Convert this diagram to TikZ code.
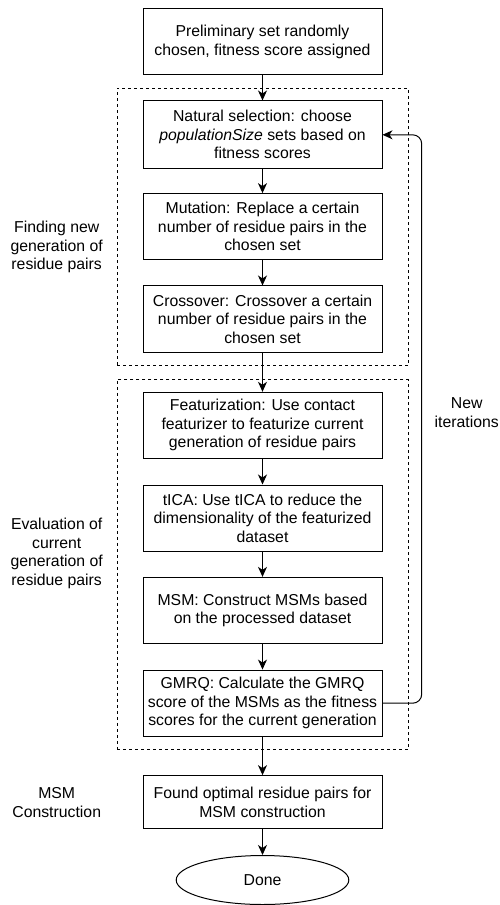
\documentclass[tikz,border=0pt]{standalone}
\usepackage{fontspec}
\setmainfont{Liberation Sans}
\usetikzlibrary{arrows.meta,shapes.geometric}
\begin{document}
\begin{tikzpicture}[x=1pt,y=-1pt,
  every node/.style={font=\fontsize{15.8}{18.5}\selectfont},
  proc/.style={draw, line width=1pt, minimum width=239pt, inner sep=0pt, align=center},
  group/.style={draw, line width=1pt, dash pattern=on 3pt off 3pt, minimum width=291pt, inner sep=0pt},
  lbl/.style={align=center, inner sep=0pt},
  arr/.style={line width=1pt, -{Stealth[length=10pt,width=9pt,inset=3pt]}}
]
\useasboundingbox (0,0) rectangle (500,905);
\node[group, minimum height=277.7pt] (g1) at (262.5,226.85) {};
\node[group, minimum height=370.4pt] (g2) at (262.5,564.5) {};

\node[proc, minimum height=66pt] (b1) at (262.5,41.7) {Preliminary set randomly\\chosen, fitness score assigned};
\node[proc, minimum height=67.7pt] (b2) at (262.5,134.8) {Natural selection: choose\\\textit{populationSize} sets based on\\fitness scores};
\node[proc, minimum height=66.3pt] (b3) at (262.5,226.8) {Mutation: Replace a certain\\number of residue pairs in the\\chosen set};
\node[proc, minimum height=66.7pt] (b4) at (262.5,319.3) {Crossover: Crossover a certain\\number of residue pairs in the\\chosen set};
\node[proc, minimum height=66pt] (b5) at (262.5,425.3) {Featurization: Use contact\\featurizer to featurize current\\generation of residue pairs};
\node[proc, minimum height=66pt] (b6) at (262.5,518) {tICA: Use tICA to reduce the\\dimensionality of the featurized\\dataset};
\node[proc, minimum height=66.3pt] (b7) at (262.5,610.5) {MSM: Construct MSMs based\\on the processed dataset};
\node[proc, minimum height=66.3pt] (b8) at (262.5,703.2) {GMRQ: Calculate the GMRQ\\score of the MSMs as the fitness\\scores for the current generation};
\node[proc, minimum height=53.3pt] (b9) at (262.5,802.3) {Found optimal residue pairs for\\MSM construction};
\node[draw, line width=1pt, ellipse, minimum width=172.6pt, minimum height=49pt, inner sep=0pt] (done) at (262.5,880) {Done};

\node[lbl] (l1) at (56.7,247) {Finding new\\generation of\\residue pairs};
\node[lbl] (l2) at (56.7,553.5) {Evaluation of\\current\\generation of\\residue pairs};
\node[lbl] (l3) at (56.7,802.5) {MSM\\Construction};
\node[lbl] (l4) at (466.7,412.5) {New\\iterations};

\coordinate (loopx) at (421.7,0);

\draw[arr] (b1) -- (b2);
\draw[arr] (b2) -- (b3);
\draw[arr] (b3) -- (b4);
\draw[arr] (b4) -- (b5);
\draw[arr] (b5) -- (b6);
\draw[arr] (b6) -- (b7);
\draw[arr] (b7) -- (b8);
\draw[arr] (b8) -- (b9);
\draw[arr] (b9) -- (done);
\draw[arr, rounded corners=9pt] (b8.east) -| (loopx |- b2.east) -- (b2.east);
\end{tikzpicture}
\end{document}
